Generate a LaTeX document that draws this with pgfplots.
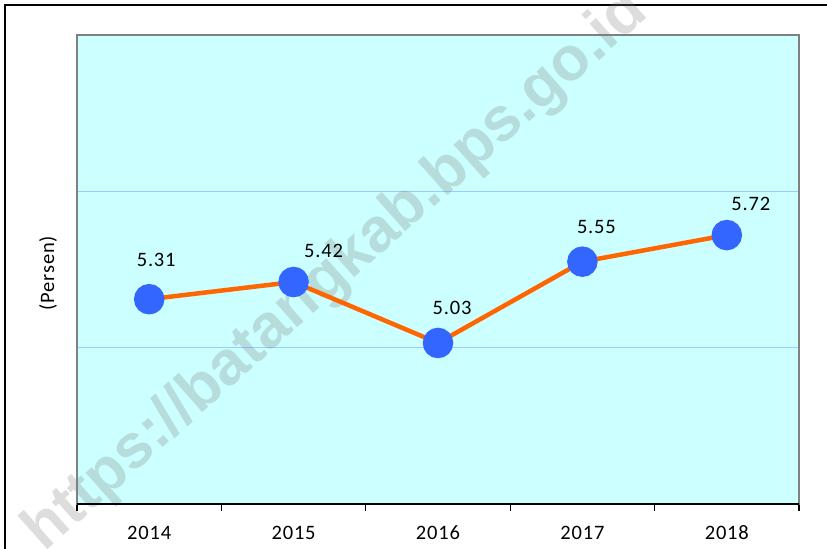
\documentclass[border=0pt]{standalone}
\usepackage{pgfplots}
\pgfplotsset{compat=1.18}
\usepackage{fontspec}
\setmainfont{Carlito}[LetterSpace=4]
\newfontfamily\wmfont{Liberation Sans}
\definecolor{bgcyan}{HTML}{CCFFFF}
\definecolor{gridblue}{HTML}{99CCFF}
\definecolor{lineorange}{HTML}{FF6600}
\definecolor{markblue}{HTML}{3366FF}
\begin{document}
\begin{tikzpicture}[x=1bp,y=1bp]
\draw[line width=1.4bp,black] (5,-10) -- (5,544) -- (840,544);
\begin{axis}[
  at={(77bp,45bp)}, anchor=south west,
  scale only axis, width=722bp, height=469bp,
  xmin=-0.5, xmax=4.5, ymin=4, ymax=7,
  clip=false,
  axis background/.style={fill=bgcyan},
  axis line style={draw=gray, line width=1.2bp},
  xtick={0,1,2,3,4},
  xticklabels={2014,2015,2016,2017,2018},
  major x tick style={draw=none},
  minor xtick={-0.5,0.5,1.5,2.5,3.5,4.5},
  minor x tick style={black, line width=1.2bp},
  minor tick length=7bp,
  tick align=outside,
  xtick pos=bottom,
  ytick={5,6},
  yticklabels={},
  major y tick style={draw=none},
  ymajorgrids,
  y grid style={gridblue, line width=1.2bp},
  xticklabel style={font=\fontsize{20.5bp}{24bp}\selectfont, yshift=-14bp},
  ylabel={(Persen)},
  ylabel style={at={(axis description cs:-0.04,0.4925)}, anchor=center, font=\fontsize{20.5bp}{24bp}\selectfont},
]
\node[rotate=41.6, text=gray, opacity=0.27, font=\wmfont\bfseries\fontsize{62bp}{62bp}\selectfont] at (axis cs:1.3,5.484) {https://batangkab.bps.go.id};
\draw[black, line width=1.4bp] (rel axis cs:0,0) -- (rel axis cs:1,0);
\addplot[lineorange, line width=4.5bp, mark=*, mark size=13bp, mark options={markblue, fill=markblue, draw=none}]
coordinates {(0,5.31) (1,5.42) (2,5.03) (3,5.55) (4,5.72)};
\begin{scope}[every node/.style={font=\fontsize{20.5bp}{24bp}\selectfont}]
\node[xshift=7bp, yshift=39bp] at (axis cs:0,5.31) {5.31};
\node[xshift=30bp, yshift=31bp] at (axis cs:1,5.42) {5.42};
\node[xshift=14bp, yshift=35bp] at (axis cs:2,5.03) {5.03};
\node[xshift=14bp, yshift=35bp] at (axis cs:3,5.55) {5.55};
\node[xshift=24bp, yshift=31bp] at (axis cs:4,5.72) {5.72};
\end{scope}
\end{axis}
\pgfresetboundingbox
\path[use as bounding box] (0,0) rectangle (827,549);
\end{tikzpicture}
\end{document}
